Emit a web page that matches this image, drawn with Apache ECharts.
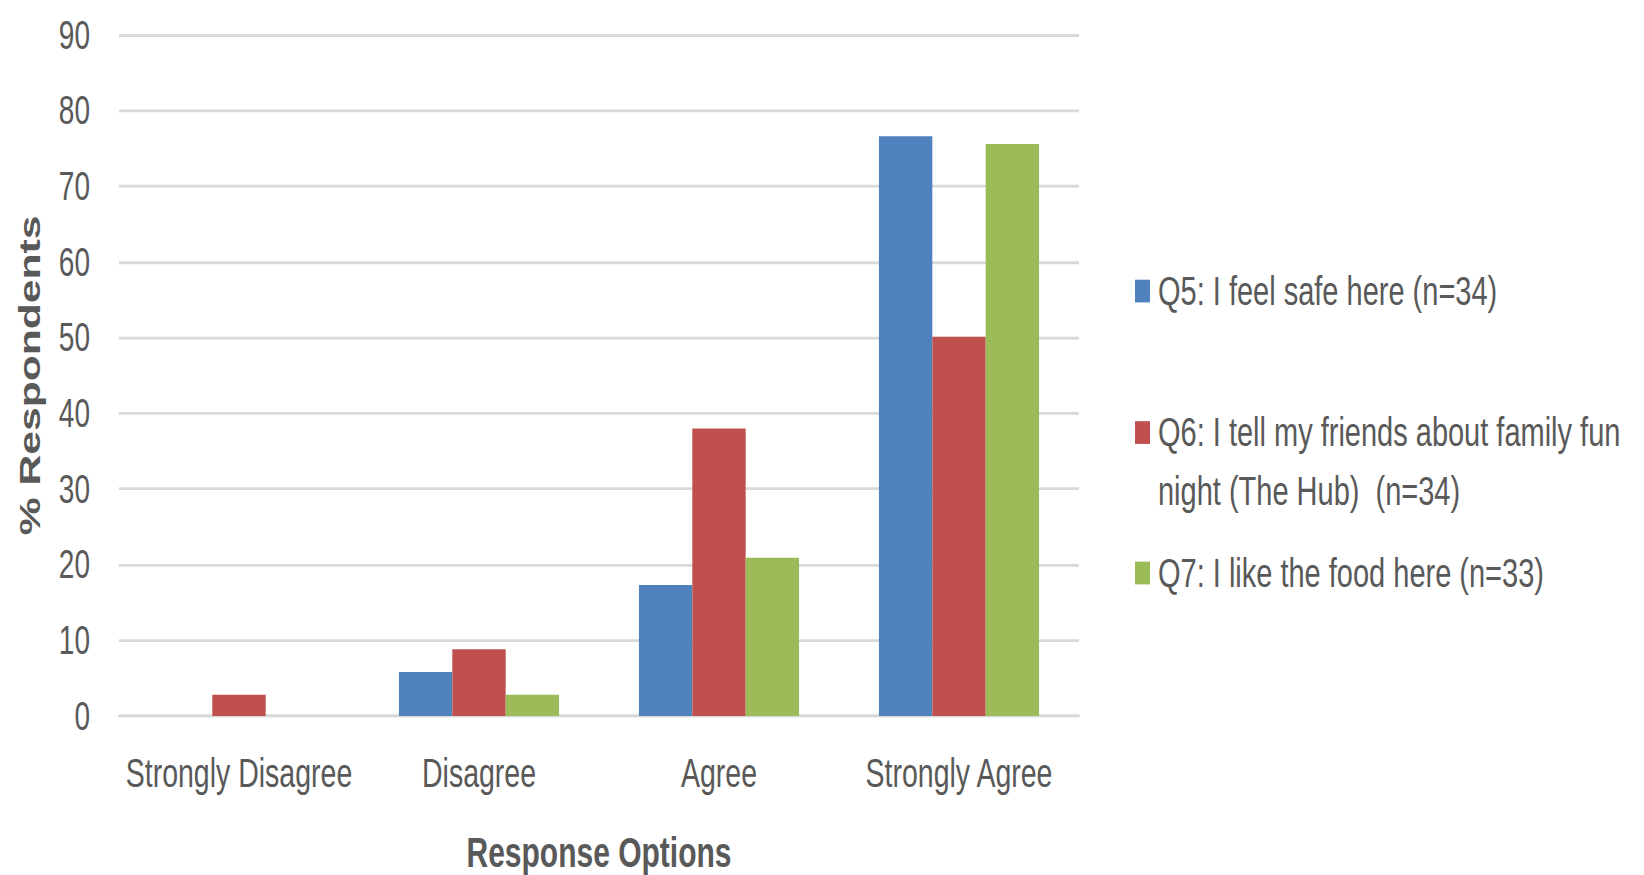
<!DOCTYPE html>
<html>
<head>
<meta charset="utf-8">
<script src="https://cdn.jsdelivr.net/npm/echarts@6/dist/echarts.min.js"></script>
<style>
  html, body { margin: 0; padding: 0; background: #ffffff; overflow: hidden; }
  #wrap { width: 1644px; height: 875px; overflow: hidden; }
  /* the chart is laid out on a shorter canvas and stretched vertically */
  #chart { width: 1644px; height: 616px; transform: scaleY(1.4205); transform-origin: 0 0; }
</style>
</head>
<body>
<div id="wrap"><div id="chart"></div></div>
<script>
const categories = ['Strongly Disagree', 'Disagree', 'Agree', 'Strongly Agree'];
const seriesNames = [
  'Q5: I feel safe here (n=34)',
  'Q6: I tell my friends about family fun night (The Hub)  (n=34)',
  'Q7: I like the food here (n=33)'
];
const q5Values = [0, 5.8, 17.3, 76.6];
const q6Values = [2.8, 8.8, 38.0, 50.1];
const q7Values = [0, 2.8, 20.9, 75.6];
const yTicks = { min: 0, max: 90, interval: 10 };

const colors = ['#4F81BD', '#C0504D', '#9BBB59'];
const FONT = '"Liberation Sans", Arial, sans-serif';
const TXT = '#595959';
const LH = 41;

function legendFor(i, top, extraText, formatter) {
  const lg = {
    data: [seriesNames[i]],
    orient: 'vertical',
    left: 1135,
    top: top,
    padding: 0,
    itemWidth: 15,
    itemHeight: 16,
    icon: 'rect',
    selectedMode: false,
    textStyle: Object.assign({
      color: TXT, fontSize: 29, fontFamily: FONT, lineHeight: LH,
      padding: [0, 0, 0, 3]
    }, extraText || {})
  };
  if (formatter) lg.formatter = formatter;
  return lg;
}

const chart = echarts.init(document.getElementById('chart'), null, { renderer: 'svg' });
chart.setOption({
  animation: false,
  backgroundColor: '#ffffff',
  color: colors,
  textStyle: { fontFamily: FONT },
  grid: {
    left: 119, right: 565, top: 24.6, bottom: 112,
    containLabel: false, outerBoundsMode: 'none'
  },
  legend: [
    legendFor(0, 184.4),
    // long entry wraps onto a second line; the marker sits beside the first line
    legendFor(1, 243, { width: 475, overflow: 'break' }, function (name) { return '\n' + name; }),
    legendFor(2, 382.9)
  ],
  xAxis: {
    type: 'category',
    data: categories,
    name: 'Response Options',
    nameLocation: 'middle',
    nameGap: 81,
    nameTextStyle: { color: TXT, fontSize: 30, fontWeight: 'bold', fontFamily: FONT },
    axisLine: { show: true, lineStyle: { color: '#d9d9d9', width: 2 } },
    axisTick: { show: false },
    axisLabel: { interval: 0, color: TXT, fontSize: 28.5, fontFamily: FONT, margin: 26, lineHeight: 28 }
  },
  yAxis: {
    type: 'value',
    min: yTicks.min,
    max: yTicks.max,
    interval: yTicks.interval,
    name: '% Respondents',
    nameLocation: 'middle',
    nameGap: 74,
    nameTextStyle: { color: TXT, fontSize: 30, fontWeight: 'bold', fontFamily: FONT },
    axisLine: { show: false },
    axisTick: { show: false },
    splitLine: { lineStyle: { color: '#d9d9d9', width: 2 } },
    axisLabel: { color: TXT, fontSize: 28, fontFamily: FONT, margin: 29, padding: [0, 0, 6, 0] }
  },
  series: [
    { name: seriesNames[0], type: 'bar', data: q5Values, barGap: '0%', barCategoryGap: '33.3%' },
    { name: seriesNames[1], type: 'bar', data: q6Values, barGap: '0%', barCategoryGap: '33.3%' },
    { name: seriesNames[2], type: 'bar', data: q7Values, barGap: '0%', barCategoryGap: '33.3%' }
  ]
});
</script>
</body>
</html>
